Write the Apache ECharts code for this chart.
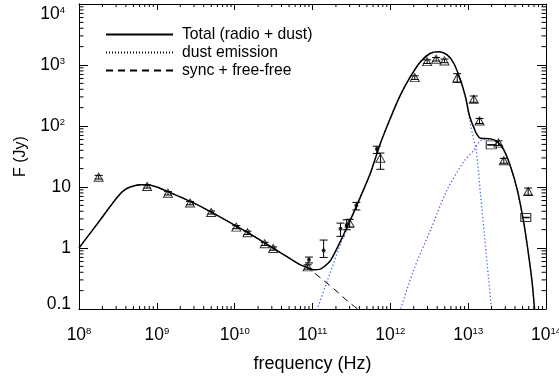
<!DOCTYPE html>
<html><head><meta charset="utf-8">
<script src="https://cdn.jsdelivr.net/npm/echarts@6/dist/echarts.min.js"></script>
<style>html,body{margin:0;padding:0;background:#fff}#c{width:559px;height:376px}</style>
</head><body><div id="c"></div>
<script>
// ---------- data ----------
const legendNames = ['Total (radio + dust)', 'dust emission', 'sync + free-free'];

const totalFreq = [1.0e8, 1.78e8, 3.16e8, 3.98e8, 5.01e8, 6.31e8, 7.94e8, 1.0e9, 1.39e9, 2.7e9, 4.88e9, 1.07e10, 1.58e10, 2.88e10, 4.47e10, 7.0e10, 8.9e10, 1.04e11, 1.26e11, 1.45e11, 1.7e11, 2.29e11, 3.07e11, 4.13e11, 5.55e11, 7.46e11, 1.0e12, 1.35e12, 1.81e12, 2.44e12, 3.27e12, 4.19e12, 5.37e12, 6.53e12, 7.96e12, 9.23e12, 1.02e13, 1.1e13, 1.18e13, 1.3e13, 1.44e13, 1.94e13, 2.36e13, 2.87e13, 3.5e13, 4.27e13, 5.19e13, 6.01e13, 6.65e13, 7.13e13, 7.4e13];
const totalFlux = [1.0, 2.65, 7.0, 9.2, 10.4, 10.9, 10.8, 10.0, 8.4, 5.8, 3.95, 2.25, 1.7, 1.06, 0.75, 0.53, 0.47, 0.44, 0.45, 0.51, 0.62, 1.3, 2.9, 6.9, 16.9, 52, 134, 324, 644, 1135, 1560, 1656, 1462, 1069, 569, 303, 162, 118, 95, 72, 63, 61.5, 55.6, 40.6, 21.6, 9.0, 2.56, 0.73, 0.267, 0.1, 0.07];

const syncFreq = [1.0e8, 1.78e8, 3.16e8, 3.98e8, 5.01e8, 6.31e8, 7.94e8, 1.0e9, 1.39e9, 2.7e9, 4.88e9, 1.07e10, 1.58e10, 2.88e10, 4.47e10, 7.0e10, 8.51e10, 1.0e11, 1.41e11, 2.0e11, 2.82e11, 3.8e11, 4.2e11];
const syncFlux = [1.0, 2.65, 7.0, 9.2, 10.4, 10.9, 10.8, 10.0, 8.4, 5.8, 3.95, 2.25, 1.7, 1.06, 0.75, 0.53, 0.48, 0.41, 0.29, 0.2, 0.135, 0.1, 0.09];

const coldDustFreq = [1.1e11, 1.15e11, 1.58e11, 2.29e11, 3.16e11, 4.13e11, 5.55e11, 7.46e11, 1.0e12, 1.35e12, 1.81e12, 2.44e12, 3.27e12, 4.19e12, 5.37e12, 6.53e12, 7.96e12, 9.23e12, 1.05e13, 1.17e13, 1.27e13, 1.44e13, 1.62e13, 1.83e13, 2.0e13, 2.06e13];
const coldDustFlux = [0.085, 0.1, 0.31, 1.15, 3.0, 6.8, 16.8, 52, 134, 324, 644, 1135, 1560, 1655, 1460, 1065, 562, 290, 120, 62, 40, 7.7, 1.58, 0.31, 0.1, 0.08];

const warmDustFreq = [1.29e12, 1.35e12, 2.0e12, 3.27e12, 5.37e12, 8.79e12, 1.18e13, 1.44e13, 1.94e13, 2.36e13, 2.87e13, 3.5e13, 4.27e13, 5.19e13, 6.01e13, 6.65e13, 7.13e13, 7.4e13];
const warmDustFlux = [0.09, 0.1, 0.44, 1.95, 9.0, 26, 40, 57, 61, 55.6, 40.6, 21.6, 9.0, 2.56, 0.73, 0.267, 0.1, 0.07];

// observed points: triangles
const triFreq = [1.79e8, 7.5e8, 1.39e9, 2.67e9, 4.98e9, 1.05e10, 1.46e10, 2.43e10, 3.12e10, 8.67e10, 3.0e11, 7.46e11, 2.06e12, 2.97e12, 3.88e12, 4.96e12, 7.23e12, 1.18e13, 1.40e13, 2.45e13, 2.87e13, 5.9e13];
const triFlux = [14.5, 10.2, 7.9, 5.45, 3.82, 2.2, 1.78, 1.17, 0.98, 0.49, 2.56, 29.7, 621, 1135, 1241, 1167, 610, 275, 121, 52.4, 26.9, 8.43];
const triLo   = [13.5, 9.6, 7.4, 5.1, 3.6, 2.07, 1.67, 1.1, 0.92, 0.45, 2.2, 19.5, 580, 1060, 1160, 1090, 520, 245, 110, 48, 24.5, 7.4];
const triHi   = [15.5, 10.8, 8.4, 5.8, 4.05, 2.33, 1.89, 1.24, 1.04, 0.53, 2.95, 36, 665, 1215, 1330, 1250, 720, 310, 133, 57, 29.5, 9.6];
// filled dots
const dotFreq = [9.0e10, 1.39e11, 2.29e11, 2.75e11, 3.66e11, 6.7e11];
const dotFlux = [0.64, 0.91, 2.06, 2.38, 4.98, 42];
const dotLo   = [0.57, 0.70, 1.55, 1.99, 4.2, 35.5];
const dotHi   = [0.71, 1.35, 2.56, 2.9, 5.6, 46.6];
// squares
const sqFreq = [1.98e13, 5.5e13];
const sqFlux = [49, 3.16];
const sqLo   = [48.5, 3.13];
const sqHi   = [49.5, 3.19];

// axis ranges and decade ticks
const xDecades = [1e8, 1e9, 1e10, 1e11, 1e12, 1e13, 1e14];
const yDecades = [0.1, 1, 10, 100, 1000, 10000];
const minorSteps = [2, 3, 4, 5, 6, 7, 8, 9];

// ---------- chart ----------
const FONT = "'Liberation Sans', Arial, Helvetica, sans-serif";
const X_MIN = xDecades[0], X_MAX = xDecades[xDecades.length - 1];
const Y_MIN = yDecades[0], Y_MAX = yDecades[yDecades.length - 1];
const TICK_COLOR = '#000';
const zip = (a, b) => a.map((v, i) => [v, b[i]]);
const zip3 = (a, b, c) => a.map((v, i) => [v, b[i], c[i]]);
const expOf = v => Math.round(Math.log10(v));
const minorOf = dec => {
  const out = [];
  for (let i = 0; i < dec.length - 1; i++) minorSteps.forEach(k => out.push(k * dec[i]));
  return out;
};
const xMinor = minorOf(xDecades);
const yMinor = minorOf(yDecades);

function errRender(params, api) {
  const f = api.value(0), lo = api.value(1), hi = api.value(2);
  const a = api.coord([f, hi]), b = api.coord([f, lo]);
  const w = 4;
  const st = {stroke: '#000', lineWidth: 1};
  return {type: 'group', children: [
    {type: 'line', shape: {x1: a[0], y1: a[1], x2: b[0], y2: b[1]}, style: st},
    {type: 'line', shape: {x1: a[0] - w, y1: a[1], x2: a[0] + w, y2: a[1]}, style: st},
    {type: 'line', shape: {x1: b[0] - w, y1: b[1], x2: b[0] + w, y2: b[1]}, style: st}
  ]};
}
function xTickRender(params, api) {
  const f = api.value(0), len = api.value(2);
  const b = api.coord([f, Y_MIN]), t = api.coord([f, Y_MAX]);
  const st = {stroke: TICK_COLOR, lineWidth: 1};
  return {type: 'group', children: [
    {type: 'line', shape: {x1: b[0], y1: b[1], x2: b[0], y2: b[1] - len}, style: st},
    {type: 'line', shape: {x1: t[0], y1: t[1], x2: t[0], y2: t[1] + len}, style: st}
  ]};
}
function yTickRender(params, api) {
  const v = api.value(1), len = api.value(2);
  const l = api.coord([X_MIN, v]), r = api.coord([X_MAX, v]);
  const st = {stroke: TICK_COLOR, lineWidth: 1};
  return {type: 'group', children: [
    {type: 'line', shape: {x1: l[0], y1: l[1], x2: l[0] + len, y2: l[1]}, style: st},
    {type: 'line', shape: {x1: r[0], y1: r[1], x2: r[0] - len, y2: r[1]}, style: st}
  ]};
}

const big = {fontSize: 17.5, lineHeight: 18, fontFamily: FONT, color: '#000'};
const sup = {fontSize: 9.5, lineHeight: 10, fontFamily: FONT, color: '#000', padding: [0, 0, 8, 0]};

const richX = {b: big, s: sup};
const richY = {
  n: big,
  b: big,
  s: Object.assign({}, sup, {padding: [0, 6, 8, 0]}),
  lo: Object.assign({}, big, {padding: [0, 0, 10, 0]}),
  t: Object.assign({}, big, {padding: [20, 0, 0, 0]}),
  ts: Object.assign({}, sup, {padding: [20, 6, 8, 0]})
};

function xFmt(v) { return '{b|10}{s|' + expOf(v) + '}'; }
function yFmt(v) {
  const e = expOf(v);
  if (e === -1) return '{lo|0.1}';
  if (e === 0) return '{n|1}';
  if (e === 1) return '{n|10}';
  if (e === 4) return '{t|10}{ts|4}';
  return '{b|10}{s|' + e + '}';
}

const axLine = {show: true, onZero: false, lineStyle: {color: '#000', width: 1}};
function xAx(pos, showLabel) {
  return {
    type: 'log', logBase: 10, position: pos, min: X_MIN, max: X_MAX,
    axisLine: axLine,
    axisTick: {show: true, inside: true, length: 6, lineStyle: {color: TICK_COLOR, width: 1}},
    minorTick: {show: false},
    splitLine: {show: false}, minorSplitLine: {show: false},
    axisLabel: showLabel ? {show: true, margin: 17, formatter: xFmt, rich: richX} : {show: false},
    name: showLabel ? 'frequency (Hz)' : '',
    nameLocation: 'middle', nameGap: 46,
    nameTextStyle: {fontSize: 18, fontFamily: FONT, color: '#000'}
  };
}
function yAx(pos, showLabel) {
  return {
    type: 'log', logBase: 10, position: pos, min: Y_MIN, max: Y_MAX,
    axisLine: axLine,
    axisTick: {show: true, inside: true, length: 9, lineStyle: {color: TICK_COLOR, width: 1}},
    minorTick: {show: false},
    splitLine: {show: false}, minorSplitLine: {show: false},
    axisLabel: showLabel ? {show: true, margin: 8, formatter: yFmt, rich: richY} : {show: false},
    name: showLabel ? 'F (Jy)' : '',
    nameLocation: 'middle', nameGap: 50,
    nameTextStyle: {fontSize: 16, fontFamily: FONT, color: '#000'}
  };
}

const xTickData = xMinor.map(v => [v, Y_MIN, 3]);
const yTickData = yMinor.map(v => [X_MIN, v, 4.5]);

const chart = echarts.init(document.getElementById('c'), null, {renderer: 'canvas'});
chart.setOption({
  animation: false,
  backgroundColor: '#fff',
  grid: {left: 79, right: 13, top: 4, bottom: 67, containLabel: false, outerBoundsMode: 'none'},
  legend: {
    show: true, orient: 'vertical', left: 100, top: 21.6,
    itemWidth: 67, itemHeight: 14, itemGap: 2, selectedMode: false,
    data: legendNames,
    itemStyle: {opacity: 0, borderWidth: 0},
    textStyle: {fontSize: 15.7, fontFamily: FONT, color: '#000', lineHeight: 14, padding: [0, 0, 0, 4]}
  },
  xAxis: [xAx('bottom', true), xAx('top', false)],
  yAxis: [yAx('left', true), yAx('right', false)],
  series: [
    {name: 'cold dust', type: 'line', data: zip(coldDustFreq, coldDustFlux),
     symbol: 'none', smooth: 0.3, lineStyle: {color: '#3d6df5', width: 1.3, type: [1.3, 2.3]}, z: 2},
    {name: 'warm dust', type: 'line', data: zip(warmDustFreq, warmDustFlux),
     symbol: 'none', smooth: 0.3, lineStyle: {color: '#8a3fd8', width: 1.3, type: [1.3, 2.3]}, z: 2},
    {name: legendNames[1], type: 'line', data: [], symbol: 'none', itemStyle: {color: '#000'},
     lineStyle: {color: '#000', width: 1, type: [1, 2]}},
    {name: legendNames[2], type: 'line', data: zip(syncFreq, syncFlux),
     symbol: 'none', smooth: 0.3, itemStyle: {color: '#000'}, lineStyle: {color: '#000', width: 1, type: [7, 5]}, z: 3},
    {name: legendNames[0], type: 'line', data: zip(totalFreq, totalFlux),
     symbol: 'none', smooth: 0.3, itemStyle: {color: '#000'}, lineStyle: {color: '#000', width: 1.5}, z: 4},
    {name: 'errTri', type: 'custom', renderItem: errRender,
     encode: {x: 0, y: [1, 2]}, data: zip3(triFreq, triLo, triHi), z: 5},
    {name: 'errDot', type: 'custom', renderItem: errRender,
     encode: {x: 0, y: [1, 2]}, data: zip3(dotFreq, dotLo, dotHi), z: 5},
    {name: 'errSq', type: 'custom', renderItem: errRender,
     encode: {x: 0, y: [1, 2]}, data: zip3(sqFreq, sqLo, sqHi), z: 5},
    {name: 'xMinorTicks', type: 'custom', renderItem: xTickRender,
     encode: {x: 0, y: 1}, data: xTickData, z: 5},
    {name: 'yMinorTicks', type: 'custom', renderItem: yTickRender,
     encode: {x: 0, y: 1}, data: yTickData, z: 5},
    {name: 'tri', type: 'scatter', data: zip(triFreq, triFlux),
     symbol: 'triangle', symbolSize: [9, 8],
     itemStyle: {color: 'rgba(255,255,255,0)', borderColor: '#000', borderWidth: 1}, z: 6},
    {name: 'dot', type: 'scatter', data: zip(dotFreq, dotFlux),
     symbol: 'circle', symbolSize: 4, itemStyle: {color: '#000'}, z: 6},
    {name: 'sq', type: 'scatter', data: zip(sqFreq, sqFlux),
     symbol: 'rect', symbolSize: [10, 8],
     itemStyle: {color: 'rgba(255,255,255,0)', borderColor: '#000', borderWidth: 1}, z: 6}
  ]
});
</script>
</body></html>
